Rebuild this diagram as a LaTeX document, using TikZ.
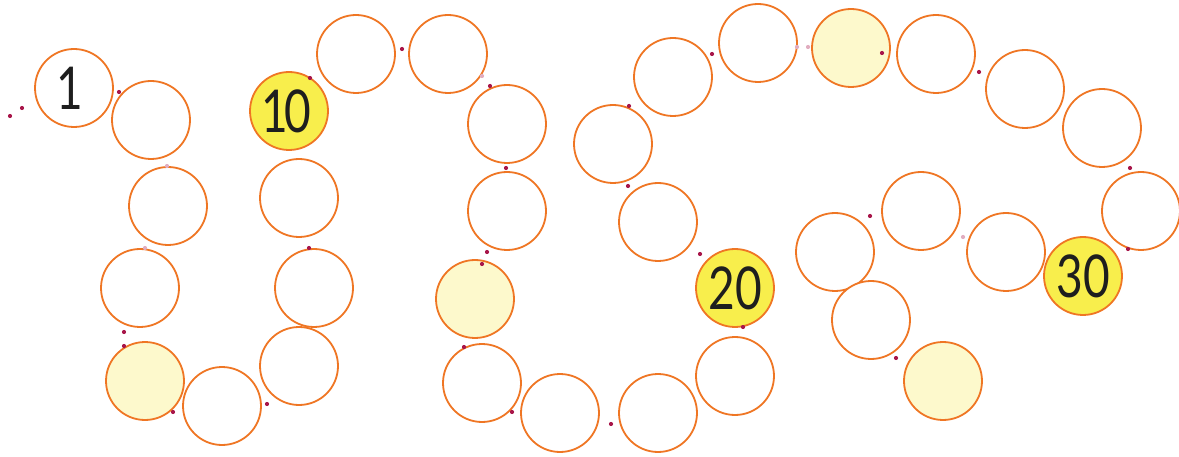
\documentclass[tikz,border=0pt]{standalone}
\usepackage{fontspec}
\usepackage{graphicx}
\newfontfamily\numfont{Lato}
\definecolor{ring}{HTML}{EF7624}
\definecolor{hot}{HTML}{F8EE4C}
\definecolor{pale}{HTML}{FDF9CC}
\definecolor{dotc}{HTML}{A8164A}
\definecolor{numc}{HTML}{1E1E1E}
\newcommand{\bignum}[1]{\raisebox{-3pt}{\scalebox{0.78}[1]{\numfont\fontsize{59}{59}\selectfont\color{numc}#1}}}
\tikzset{
  ball/.style={circle, minimum size=78pt, inner sep=0pt, draw=ring, line width=1.8pt, fill=white},
  hotball/.style={ball, fill=hot},
  paleball/.style={ball, fill=pale},
  pip/.style={circle, fill=dotc, minimum size=4.2pt, inner sep=0pt},
  faintpip/.style={pip, fill=dotc!35}
}
\begin{document}
\begin{tikzpicture}[x=1pt,y=-1pt]
\useasboundingbox (0,0) rectangle (1179,457);
% circles
\node[ball] (c1) at (74,88) {\hspace*{-8pt}\bignum{1}};
\node[ball] (c2) at (151,120) {};
\node[ball] (c3) at (168,206) {};
\node[ball] (c4) at (140,288) {};
\node[paleball] (c5) at (145,381) {};
\node[ball] (c6) at (222,406) {};
\node[ball] (c7) at (299,366) {};
\node[ball] (c8) at (314,288) {};
\node[ball] (c9) at (299,198) {};
\node[hotball] (c10) at (289,111) {\hspace*{-6pt}\bignum{1\kern-5pt0}};
\node[ball] (c11) at (356,54) {};
\node[ball] (c12) at (448,54) {};
\node[ball] (c13) at (507,124) {};
\node[ball] (c14) at (507,211) {};
\node[paleball] (c15) at (475,299) {};
\node[ball] (c16) at (482,383) {};
\node[ball] (c17) at (560,413) {};
\node[ball] (c18) at (658,413) {};
\node[ball] (c19) at (735,376) {};
\node[hotball] (c20) at (735,288) {\bignum{20}};
\node[ball] (c21) at (658,222) {};
\node[ball] (c22) at (613,144) {};
\node[ball] (c23) at (673,77) {};
\node[ball] (c24) at (758,43) {};
\node[paleball] (c25) at (851,48) {};
\node[ball] (c26) at (936,54) {};
\node[ball] (c27) at (1025,89) {};
\node[ball] (c28) at (1102,128) {};
\node[ball] (c29) at (1141,211) {};
\node[hotball] (c30) at (1083,276) {\bignum{30}};
\node[ball] (c31) at (1006,252) {};
\node[ball] (c32) at (921,211) {};
\node[ball] (c33) at (835,252) {};
\node[ball] (c34) at (871,320) {};
\node[paleball] (c35) at (943,381) {};
% dots
\node[pip] (d1) at (10,116) {};
\node[pip] (d2) at (22,108) {};
\node[pip] (d3) at (119,92) {};
\node[faintpip] (d4) at (167,166) {};
\node[pip] (d5) at (310,78) {};
\node[faintpip] (d6) at (145,248) {};
\node[pip] (d7) at (124,332) {};
\node[pip] (d8) at (124,346) {};
\node[pip] (d9) at (173,412) {};
\node[pip] (d10) at (267,404) {};
\node[pip] (d11) at (309,248) {};
\node[pip] (d12) at (402,49) {};
\node[faintpip] (d13) at (482,76) {};
\node[pip] (d14) at (490,86) {};
\node[pip] (d15) at (506,168) {};
\node[pip] (d16) at (487,252) {};
\node[pip] (d17) at (482,264) {};
\node[pip] (d18) at (464,347) {};
\node[pip] (d19) at (512,412) {};
\node[pip] (d20) at (611,424) {};
\node[pip] (d21) at (700,254) {};
\node[pip] (d22) at (743,327) {};
\node[pip] (d23) at (712,54) {};
\node[pip] (d24) at (629,106) {};
\node[pip] (d25) at (628,186) {};
\node[faintpip] (d26) at (797,47) {};
\node[faintpip] (d27) at (808,47) {};
\node[pip] (d28) at (882,53) {};
\node[pip] (d29) at (870,216) {};
\node[pip] (d30) at (979,72) {};
\node[pip] (d31) at (1130,168) {};
\node[faintpip] (d32) at (963,237) {};
\node[pip] (d33) at (1128,249) {};
\node[pip] (d34) at (896,358) {};
\end{tikzpicture}
\end{document}
